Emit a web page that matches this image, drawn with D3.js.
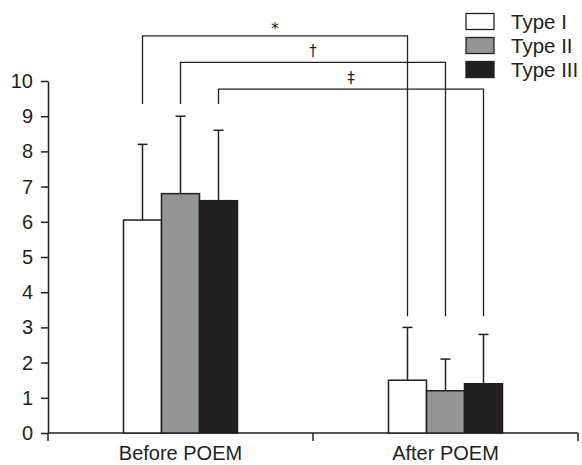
<!DOCTYPE html>
<html>
<head>
<meta charset="utf-8">
<script src="https://cdn.jsdelivr.net/npm/d3@7"></script>
<style>
  body { margin: 0; background: #fff; }
  svg { display: block; font-family: "Liberation Sans", Arial, sans-serif; }
  .axis text { font-size: 20px; fill: #231f20; }
  .axis path, .axis line { stroke: #231f20; stroke-width: 1.5; }
  .mark { font-family: "DejaVu Sans", sans-serif; fill: #231f20; }
</style>
</head>
<body>
<svg id="chart"></svg>
<script>
"use strict";

// chart values
var categories = ["Before POEM", "After POEM"];
var types = ["Type I", "Type II", "Type III"];
var means = [[6.05, 6.8, 6.6], [1.5, 1.2, 1.4]];
var sds = [[2.15, 2.2, 2.0], [1.5, 0.9, 1.4]];
var yTicks = [0, 1, 2, 3, 4, 5, 6, 7, 8, 9, 10];
var marks = ["*", "\u2020", "\u2021"];
var bracketLevels = [11.28, 10.53, 9.77];
var bracketStart = 9.35;
var bracketEnd = 3.32;

var colors = ["#ffffff", "#939598", "#231f20"];

var width = 582;
var height = 465;
var svg = d3.select("#chart").attr("width", width).attr("height", height);

var x0 = d3.scaleBand().domain(categories).range([48, 578]);
var bw = x0.bandwidth();
var x1 = d3.scaleBand().domain(types).range([bw / 2 - 57, bw / 2 + 57]);
var y = d3.scaleLinear().domain([0, 10]).range([433, 81]);

// y axis
svg.append("g").attr("class", "axis")
  .attr("transform", "translate(48,0)")
  .call(d3.axisLeft(y).tickValues(yTicks).tickSize(7).tickSizeOuter(0).tickPadding(8));

// x axis: line with ticks at band edges
var xg = svg.append("g").attr("class", "axis");
xg.append("line").attr("x1", 48).attr("x2", 578).attr("y1", y(0)).attr("y2", y(0));
var edges = [x0.range()[0]].concat(categories.map(function (c) { return x0(c) + bw; }));
xg.selectAll(".edge").data(edges).enter().append("line").attr("class", "edge")
  .attr("x1", function (d) { return d; }).attr("x2", function (d) { return d; })
  .attr("y1", y(0)).attr("y2", y(0) + 8);
xg.selectAll(".cat").data(categories).enter().append("text").attr("class", "cat")
  .attr("x", function (d) { return x0(d) + bw / 2; })
  .attr("y", 460)
  .attr("text-anchor", "middle")
  .text(function (d) { return d; });

// bars and error bars
var groups = svg.selectAll(".grp").data(categories).enter().append("g").attr("class", "grp")
  .attr("transform", function (d) { return "translate(" + x0(d) + ",0)"; });

groups.each(function (cat, ci) {
  var g = d3.select(this);
  var rows = types.map(function (t, ti) { return { t: t, i: ti, m: means[ci][ti], s: sds[ci][ti] }; });
  g.selectAll(".err").data(rows).enter().append("line").attr("class", "err")
    .attr("x1", function (d) { return x1(d.t) + x1.bandwidth() / 2; })
    .attr("x2", function (d) { return x1(d.t) + x1.bandwidth() / 2; })
    .attr("y1", function (d) { return y(d.m); })
    .attr("y2", function (d) { return y(d.m + d.s); })
    .attr("stroke", "#231f20").attr("stroke-width", 1.5);
  g.selectAll(".cap").data(rows).enter().append("line").attr("class", "cap")
    .attr("x1", function (d) { return x1(d.t) + x1.bandwidth() / 2 - 5; })
    .attr("x2", function (d) { return x1(d.t) + x1.bandwidth() / 2 + 5; })
    .attr("y1", function (d) { return y(d.m + d.s); })
    .attr("y2", function (d) { return y(d.m + d.s); })
    .attr("stroke", "#231f20").attr("stroke-width", 1.5);
  g.selectAll(".bar").data(rows).enter().append("rect").attr("class", "bar")
    .attr("x", function (d) { return x1(d.t); })
    .attr("y", function (d) { return y(d.m); })
    .attr("width", x1.bandwidth())
    .attr("height", function (d) { return y(0) - y(d.m); })
    .attr("fill", function (d) { return colors[d.i]; })
    .attr("stroke", "#231f20").attr("stroke-width", 1.5);
});

// significance brackets
var br = svg.append("g");
types.forEach(function (t, i) {
  var xa = x0(categories[0]) + x1(t) + x1.bandwidth() / 2;
  var xb = x0(categories[1]) + x1(t) + x1.bandwidth() / 2;
  var yl = y(bracketLevels[i]);
  br.append("path")
    .attr("d", "M" + xa + "," + y(bracketStart) + "V" + yl + "H" + xb + "V" + y(bracketEnd))
    .attr("fill", "none").attr("stroke", "#231f20").attr("stroke-width", 1.3);
  br.append("text").attr("class", "mark")
    .attr("x", (xa + xb) / 2)
    .attr("y", i === 0 ? yl - 2 : yl - 6)
    .attr("text-anchor", "middle")
    .attr("font-size", i === 0 ? 16 : 15)
    .text(marks[i]);
});

// legend
var lg = svg.append("g").attr("transform", "translate(466,13.5)");
types.forEach(function (t, i) {
  lg.append("rect").attr("x", 0).attr("y", i * 24).attr("width", 28).attr("height", 16)
    .attr("fill", colors[i]).attr("stroke", "#231f20").attr("stroke-width", 1.3);
  lg.append("text").attr("x", 45).attr("y", i * 24 + 15.5)
    .attr("font-size", 20.5).attr("fill", "#231f20").text(t);
});
</script>
</body>
</html>
